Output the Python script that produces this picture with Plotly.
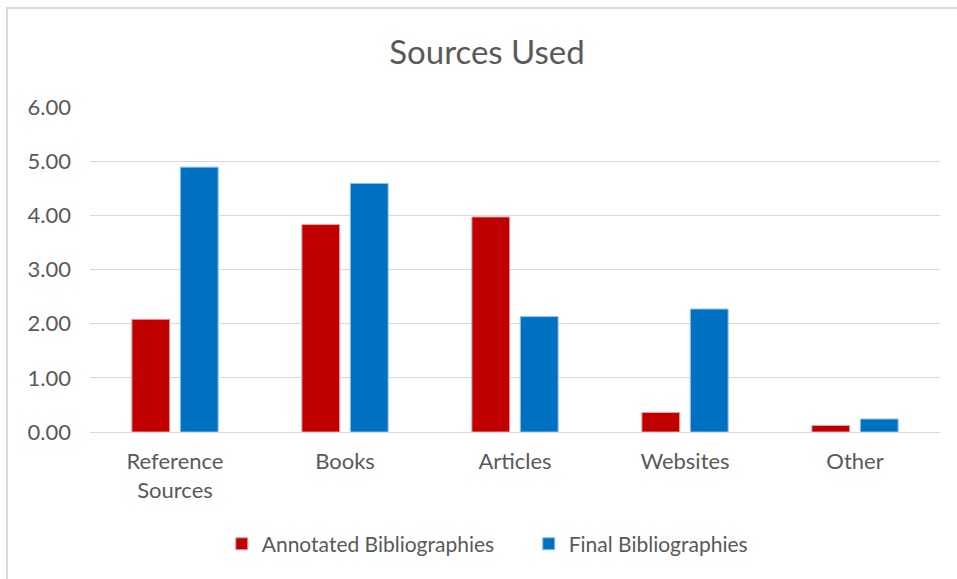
import plotly.graph_objects as go

categories = ["Reference<br>Sources", "Books", "Articles", "Websites", "Other"]
annotated = [2.08, 3.83, 3.97, 0.36, 0.12]
final = [4.89, 4.59, 2.13, 2.27, 0.24]
y_ticks = [0, 1, 2, 3, 4, 5, 6]
y_tick_labels = ["0.00", "1.00", "2.00", "3.00", "4.00", "5.00", "6.00"]

FONT = "Lato, Carlito, Calibri, sans-serif"
GREY = "#595959"

fig = go.Figure()
fig.add_trace(go.Bar(name="Annotated Bibliographies", x=categories, y=annotated,
                     marker=dict(color="#C00000", line=dict(color="#e8a0a0", width=1))))
fig.add_trace(go.Bar(name="Final Bibliographies", x=categories, y=final,
                     marker=dict(color="#0070C0", line=dict(color="#8fc0e8", width=1))))

fig.update_layout(
    width=957, height=579,
    margin=dict(l=90, r=17, t=107, b=147),
    paper_bgcolor="white", plot_bgcolor="white",
    font=dict(family=FONT, color=GREY, size=22),
    title=dict(text="Sources Used", x=487 / 957, xref="container", xanchor="center",
               y=0.91, yanchor="middle",
               font=dict(size=33, color=GREY, family=FONT)),
    barmode="group", bargap=0.43, bargroupgap=0.22,
    showlegend=True,
    legend=dict(orientation="h", x=0.155, xanchor="left", y=-0.345, yanchor="middle",
                font=dict(size=21, color=GREY), itemwidth=30, traceorder="normal",
                entrywidth=262, entrywidthmode="pixels"),
    xaxis=dict(showgrid=False, showline=True, linecolor="#d9d9d9", linewidth=1,
               ticks="", tickfont=dict(size=22, color=GREY), ticklabelstandoff=10),
    yaxis=dict(range=[0, 6], tickvals=y_ticks, ticktext=y_tick_labels,
               showgrid=True, gridcolor="#d9d9d9", gridwidth=1, zeroline=False,
               showline=False, ticks="", ticklabelstandoff=18,
               tickfont=dict(size=22, color=GREY)),
    shapes=[dict(type="rect", xref="paper", yref="paper",
                 x0=(7 - 90) / 850, x1=1.2, y0=-0.6, y1=1 + (107 - 8) / 325.3,
                 line=dict(color="#d9d9d9", width=2), fillcolor="rgba(0,0,0,0)", layer="below")],
)

fig.write_html("out.html", config={"displayModeBar": False},
               post_script="document.body.style.margin='0';document.body.style.overflow='hidden';")
